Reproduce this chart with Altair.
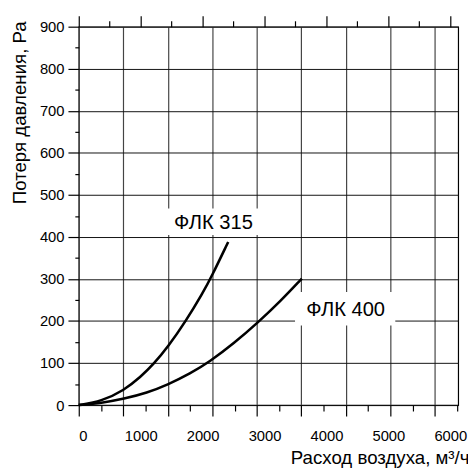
import altair as alt
import pandas as pd

# ---- data ----
flow_315 = [0, 365, 730, 1000, 1206, 1444, 1730, 2000, 2143, 2413]
loss_315 = [0, 9, 35, 67, 97, 139, 200, 266, 305, 388]
flow_400 = [0, 365, 730, 1100, 1444, 1800, 2111, 2500, 2905, 3250, 3603]
loss_400 = [0, 5, 15, 29, 49, 75, 103, 146, 198, 246, 301]

label_names = ["ФЛК 315", "ФЛК 400"]
label_flow = [2167, 4302]
label_loss = [436, 229]

x_labels = [0, 1000, 2000, 3000, 4000, 5000, 6000]
x_top_minor = [500, 1500, 2500, 3500, 4500, 5500]
x_grid = [0, 719, 1438, 2157, 2876, 3595, 4314, 5033, 5752]
x_grid_minor = [359.5, 1078.5, 1797.5, 2516.5, 3235.5, 3954.5, 4673.5, 5392.5, 6111.5]
y_major = [0, 100, 200, 300, 400, 500, 600, 700, 800, 900]
y_minor = [50, 150, 250, 350, 450, 550, 650, 750, 850]

X_DOMAIN = [0, 6127]
Y_DOMAIN = [0, 900]
FONT = "Liberation Sans"

curves = pd.DataFrame({
    "v": flow_315 + flow_400,
    "p": loss_315 + loss_400,
    "series": [label_names[0]] * len(flow_315) + [label_names[1]] * len(flow_400),
})
labels = pd.DataFrame({"v": label_flow, "p": label_loss, "name": label_names})

xs = alt.Scale(domain=X_DOMAIN, nice=False, zero=False)
ys = alt.Scale(domain=Y_DOMAIN, nice=False, zero=False)


def axis_layer(x_axis, y_axis):
    return alt.Chart(curves).mark_point(opacity=0).encode(
        x=alt.X("v:Q", scale=xs, axis=x_axis),
        y=alt.Y("p:Q", scale=ys, axis=y_axis),
    )


common = dict(domain=False, tickColor="black", tickWidth=1.2, labelFont=FONT,
              labelFontSize=15, labelColor="black", format="d")

# y axis with labels, major ticks and horizontal grid
y_main = alt.Axis(values=y_major, orient="left", tickSize=11, grid=True,
                  gridColor="#111111", gridWidth=1, labelPadding=4,
                  labelBaseline="middle",
                  title="Потеря давления, Ра", titleFont=FONT, titleFontSize=19,
                  titleFontWeight="normal", titleColor="black",
                  titleAngle=270, titleAlign="right", titleBaseline="middle",
                  titleX=-60, titleY=-6, **common)
y_min = alt.Axis(values=y_minor, orient="left", tickSize=4, labels=False,
                 grid=False, title=None, **common)

x_lab = alt.Axis(values=x_labels, orient="bottom", ticks=False, tickSize=0,
                 labelPadding=36, labelBaseline="alphabetic", grid=False,
                 title="Расход воздуха, м³/ч", titleFont=FONT, titleFontSize=19,
                 titleFontWeight="normal", titleColor="black",
                 titleAlign="right", titleBaseline="alphabetic",
                 titleX=397, titleY=59, **common)
x_grid_ax = alt.Axis(values=x_grid, orient="bottom", tickSize=11, labels=False,
                     grid=True, gridColor="#444444", gridWidth=1.2, title=None, **common)
x_grid_min = alt.Axis(values=x_grid_minor, orient="bottom", tickSize=6,
                      labels=False, grid=False, title=None, **common)
x_top_maj = alt.Axis(values=x_labels, orient="top", tickSize=11, labels=False,
                     grid=False, title=None, **common)
x_top_min = alt.Axis(values=x_top_minor, orient="top", tickSize=6, labels=False,
                     grid=False, title=None, **common)

layers = [
    axis_layer(x_grid_ax, y_main),
    axis_layer(x_grid_min, y_min),
    axis_layer(x_lab, None),
    axis_layer(x_top_maj, None),
    axis_layer(x_top_min, None),
]

lines = alt.Chart(curves).mark_line(color="black", strokeWidth=2.6,
                                    interpolate="basis").encode(
    x=alt.X("v:Q", scale=xs, axis=None),
    y=alt.Y("p:Q", scale=ys, axis=None),
    detail="series:N",
)

box315 = alt.Chart(labels).transform_filter(
    alt.datum.name == label_names[0]
).mark_rect(color="white", width=103, height=27).encode(
    x=alt.X("v:Q", scale=xs, axis=None),
    y=alt.Y("p:Q", scale=ys, axis=None),
)
box400 = alt.Chart(labels).transform_filter(
    alt.datum.name == label_names[1]
).mark_rect(color="white", width=102, height=34).encode(
    x=alt.X("v:Q", scale=xs, axis=None),
    y=alt.Y("p:Q", scale=ys, axis=None),
)
texts = alt.Chart(labels).mark_text(font=FONT, fontSize=20.5, color="black",
                                    baseline="alphabetic", dx=0.5, dy=7).encode(
    x=alt.X("v:Q", scale=xs, axis=None),
    y=alt.Y("p:Q", scale=ys, axis=None),
    text="name:N",
)

chart = alt.layer(*layers, lines, box315, box400, texts).resolve_axis(
    x="independent", y="independent"
).properties(
    width=386, height=385,
    autosize=alt.AutoSizeParams(type="none"),
    padding={"left": 72, "top": 15, "right": 10, "bottom": 61},
    background="white",
).configure_view(stroke="black", strokeWidth=1.2)

chart.save("out.html", embed_options={"renderer": "svg", "actions": False})
